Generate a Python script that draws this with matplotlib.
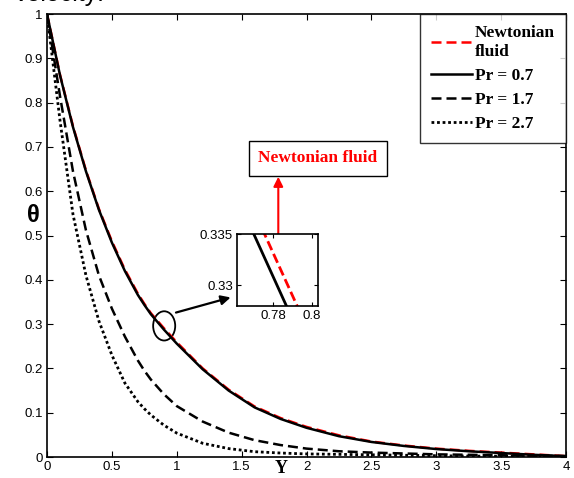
import numpy as np
import matplotlib
matplotlib.use("Agg")
import matplotlib.pyplot as plt
from matplotlib.patches import Ellipse

# temperature profiles theta(Y)
Y = [0, 0.1, 0.2, 0.3, 0.4, 0.5, 0.6, 0.7, 0.75, 0.8, 0.9, 1.0, 1.2, 1.4, 1.6,
     1.8, 2.0, 2.25, 2.5, 2.75, 3.0, 3.25, 3.5, 3.75, 4.0]
theta_newt = [1.0, 0.863, 0.747, 0.647, 0.560, 0.487, 0.423, 0.369, 0.3458, 0.3248, 0.291,
              0.259, 0.200, 0.152, 0.114, 0.088, 0.068, 0.049, 0.035, 0.026, 0.019,
              0.014, 0.010, 0.006, 0.002]
theta_07 = [1.0, 0.862, 0.745, 0.645, 0.558, 0.484, 0.420, 0.366, 0.3435, 0.3225, 0.288,
            0.256, 0.198, 0.150, 0.112, 0.086, 0.066, 0.047, 0.034, 0.025, 0.018,
            0.013, 0.009, 0.005, 0.002]
theta_17 = [1.0, 0.815, 0.645, 0.512, 0.410, 0.335, 0.272, 0.218, 0.195, 0.175, 0.142,
            0.115, 0.080, 0.055, 0.038, 0.027, 0.019, 0.013, 0.010, 0.008, 0.006,
            0.005, 0.004, 0.003, 0.002]
theta_27 = [1.0, 0.760, 0.548, 0.410, 0.307, 0.230, 0.167, 0.125, 0.109, 0.095, 0.072,
            0.054, 0.031, 0.019, 0.012, 0.009, 0.007, 0.006, 0.005, 0.004, 0.003,
            0.002, 0.002, 0.001, 0.001]

plt.rcParams["font.family"] = "Liberation Sans"
SERIF = "Liberation Serif"

fig = plt.figure(figsize=(5.74, 4.78), dpi=100)
ax = fig.add_axes([0.0819, 0.0439, 0.9042, 0.9268])

ax.plot(Y, theta_newt, color="red", ls=(0, (4, 2)), lw=1.8, label="Newtonian\nfluid")
ax.plot(Y, theta_07, color="black", ls="-", lw=1.8, label="Pr = 0.7")
ax.plot(Y, theta_17, color="black", ls=(0, (4, 2)), lw=1.8, label="Pr = 1.7")
ax.plot(Y, theta_27, color="black", ls=(0, (1, 1)), lw=2.0, label="Pr = 2.7")

ax.set_xlim(0, 4)
ax.set_ylim(0, 1)
ax.set_xticks(np.arange(0, 4.01, 0.5))
ax.set_xticklabels(["0", "0.5", "1", "1.5", "2", "2.5", "3", "3.5", "4"])
ax.set_yticks(np.arange(0, 1.01, 0.1))
ax.set_yticklabels(["0", "0.1", "0.2", "0.3", "0.4", "0.5", "0.6", "0.7", "0.8", "0.9", "1"])
ax.tick_params(direction="in", top=True, right=True, labelsize=9.5, length=4, pad=3)
for s in ax.spines.values():
    s.set_linewidth(1.2)

ax.text(0.452, -0.027, "Y", transform=ax.transAxes, family=SERIF, fontweight="bold",
        fontsize=13, ha="center", va="center")
ax.text(-0.027, 0.545, "θ", transform=ax.transAxes, fontsize=17, fontweight="bold",
        ha="center", va="center")
fig.text(0.026, 1 - 1.5 / 478, "velocity:", fontsize=18, ha="left", va="baseline")

leg = ax.legend(loc="upper right", frameon=True, fancybox=False, edgecolor="black",
                handlelength=2.35, borderaxespad=0.0, handletextpad=0.15,
                prop={"family": SERIF, "weight": "bold", "size": 12.5},
                labelspacing=0.45, borderpad=0.65)
leg.get_frame().set_linewidth(1.0)

# zoom marker
ax.add_patch(Ellipse((0.903, 0.296), 0.17, 0.066, fill=False, ec="black", lw=1.3))

# inset
axins = fig.add_axes([0.413, 0.3598, 0.141, 0.1506])
axins.plot(Y, theta_07, color="black", ls="-", lw=2.0)
axins.plot(Y, theta_newt, color="red", ls=(0, (3.5, 1.5)), lw=2.0)
axins.set_xlim(0.7617, 0.803)
axins.set_ylim(0.328, 0.335)
axins.set_xticks([0.78, 0.8])
axins.set_xticklabels(["0.78", "0.8"])
axins.set_yticks([0.33, 0.335])
axins.set_yticklabels(["0.33", "0.335"])
axins.tick_params(direction="in", top=True, right=True, labelsize=9.5, length=3, pad=3)
for s in axins.spines.values():
    s.set_linewidth(1.2)

# arrow from ellipse to inset
ax.annotate("", xy=(233.3 / 574, 1 - 296.7 / 478), xycoords="figure fraction",
            xytext=(173.3 / 574, 1 - 313.3 / 478), textcoords="figure fraction",
            arrowprops=dict(arrowstyle="-|>", color="black", lw=1.6, mutation_scale=14))

# Newtonian fluid label box + red arrow
fig.text(318 / 574, 1 - 158.5 / 478, "Newtonian fluid", color="red", family=SERIF,
         fontweight="bold", fontsize=12.5, ha="center", va="center",
         bbox=dict(boxstyle="square,pad=0.55", fc="white", ec="black", lw=1.0))
ax.annotate("", xy=(278.3 / 574, 1 - 174 / 478), xycoords="figure fraction",
            xytext=(278.3 / 574, 1 - 261.7 / 478), textcoords="figure fraction",
            arrowprops=dict(arrowstyle="-|>", color="red", lw=1.5, mutation_scale=14))

fig.savefig("out.png", dpi=100)
